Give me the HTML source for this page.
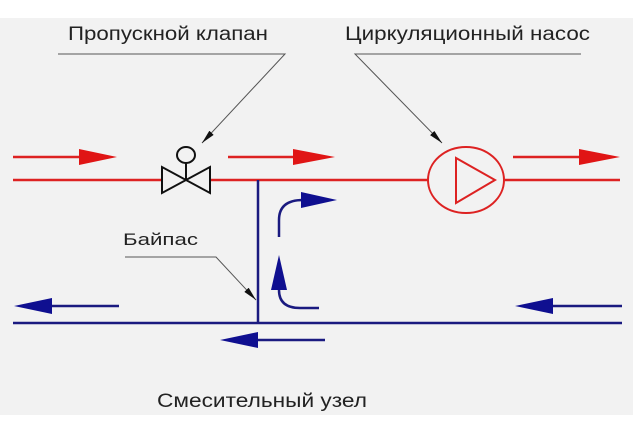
<!DOCTYPE html><html><head><style>body{margin:0;background:#fff}svg{display:block}text{font-family:"Liberation Sans",sans-serif;fill:#222}</style></head><body>
<svg width="633" height="433" viewBox="0 0 633 433">
<rect x="0" y="18" width="633" height="397" fill="#f2f2f2"/>
<defs>
<marker id="k" markerWidth="14" markerHeight="6" refX="14" refY="3" orient="auto" markerUnits="userSpaceOnUse"><path d="M0,0L14,3L0,6z" fill="#111"/></marker>
</defs>
<text x="68" y="40" font-size="19" textLength="200" lengthAdjust="spacingAndGlyphs">Пропускной клапан</text>
<text x="345" y="40" font-size="19" textLength="245" lengthAdjust="spacingAndGlyphs">Циркуляционный насос</text>
<text x="123" y="245" font-size="17" textLength="75" lengthAdjust="spacingAndGlyphs">Байпас</text>
<text x="157" y="407" font-size="19" textLength="210" lengthAdjust="spacingAndGlyphs">Смесительный узел</text>
<g stroke="#555" stroke-width="1" fill="none">
<path d="M58,54H285L202,143" marker-end="url(#k)"/>
<path d="M581,54H355L442,143" marker-end="url(#k)"/>
<path d="M125,257H216L256,300" marker-end="url(#k)"/>
</g>
<g stroke="#d22" stroke-width="2.5" fill="none">
<path d="M13,180H161M210,180H428M505,180H620"/>
<path d="M13,157H85M228,157H300M513,157H585"/>
<ellipse cx="466" cy="180" rx="38" ry="33" stroke-width="2"/>
<path d="M456,158L456,203L495,180Z" stroke-width="2"/>
</g>
<g fill="#e01515"><path d="M79,149L117,157L79,165z"/><path d="M293,149L335,157L293,165z"/><path d="M579,149L620,157L579,165z"/></g>
<g stroke="#111" stroke-width="2" fill="none">
<path d="M162,167L162,193L210,167L210,193Z"/>
<path d="M186,163V180"/><ellipse cx="186" cy="155" rx="9" ry="8"/>
</g>
<g stroke="#1a1a80" stroke-width="2.5" fill="none">
<path d="M258,180V323M13,323H622"/>
<path d="M45,306H119M548,306H622M252,340H325"/>
<path d="M279,237V220Q279,200 303,200"/>
<path d="M279,285V290Q279,308 300,308H319"/>
</g>
<g fill="#0f0f90">
<path d="M14,306L52,298L52,314z"/><path d="M515,306L553,298L553,314z"/><path d="M220,340L258,332L258,348z"/>
<path d="M301,192L337,200L301,208z"/><path d="M279,255L271,290L287,290z"/>
</g>
</svg></body></html>
